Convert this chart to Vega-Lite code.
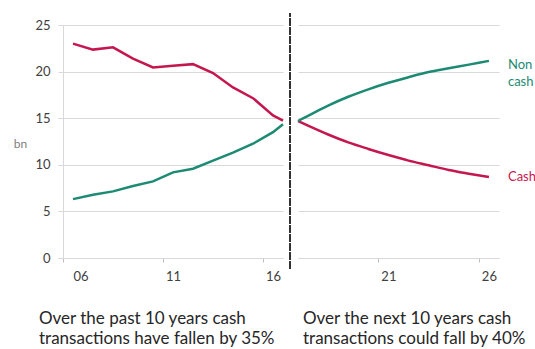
{
  "$schema": "https://vega.github.io/schema/vega-lite/v6.json",
  "background": "white",
  "padding": {"left": 13, "top": 12, "right": 0, "bottom": 0},
  "bounds": "flush",
  "spacing": 15,
  "config": {
    "view": {"stroke": null},
    "font": "Lato",
    "axis": {
      "labelFont": "Lato",
      "labelFontSize": 13,
      "labelColor": "#404040",
      "domainColor": "#d9d9d9",
      "tickColor": "#bfbfbf",
      "gridColor": "#d9d9d9",
      "titleFont": "Lato"
    },
    "title": {"font": "Lato", "fontSize": 17, "fontWeight": "normal", "color": "#262626", "anchor": "start", "orient": "bottom", "frame": "group", "lineHeight": 20, "offset": 28}
  },
  "datasets": {
    "past": [
      {"year": 6, "series": "Cash", "bn": 23.0},
      {"year": 7, "series": "Cash", "bn": 22.36},
      {"year": 8, "series": "Cash", "bn": 22.6},
      {"year": 9, "series": "Cash", "bn": 21.4},
      {"year": 10, "series": "Cash", "bn": 20.45},
      {"year": 11, "series": "Cash", "bn": 20.62},
      {"year": 12, "series": "Cash", "bn": 20.8},
      {"year": 13, "series": "Cash", "bn": 19.85},
      {"year": 14, "series": "Cash", "bn": 18.3},
      {"year": 15, "series": "Cash", "bn": 17.15},
      {"year": 16, "series": "Cash", "bn": 15.3},
      {"year": 16.5, "series": "Cash", "bn": 14.75},
      {"year": 6, "series": "Non cash", "bn": 6.32},
      {"year": 7, "series": "Non cash", "bn": 6.79},
      {"year": 8, "series": "Non cash", "bn": 7.15},
      {"year": 9, "series": "Non cash", "bn": 7.72},
      {"year": 10, "series": "Non cash", "bn": 8.22},
      {"year": 11, "series": "Non cash", "bn": 9.19},
      {"year": 12, "series": "Non cash", "bn": 9.58},
      {"year": 13, "series": "Non cash", "bn": 10.44},
      {"year": 14, "series": "Non cash", "bn": 11.3},
      {"year": 15, "series": "Non cash", "bn": 12.26},
      {"year": 16, "series": "Non cash", "bn": 13.5},
      {"year": 16.5, "series": "Non cash", "bn": 14.36}
    ],
    "outlook": [
      {"year": 16.5, "series": "Cash", "bn": 14.7},
      {"year": 17, "series": "Cash", "bn": 14.2},
      {"year": 18, "series": "Cash", "bn": 13.25},
      {"year": 19, "series": "Cash", "bn": 12.4},
      {"year": 20, "series": "Cash", "bn": 11.7},
      {"year": 21, "series": "Cash", "bn": 11.05},
      {"year": 22, "series": "Cash", "bn": 10.45},
      {"year": 23, "series": "Cash", "bn": 9.95},
      {"year": 24, "series": "Cash", "bn": 9.45},
      {"year": 25, "series": "Cash", "bn": 9.05},
      {"year": 26, "series": "Cash", "bn": 8.68},
      {"year": 16.5, "series": "Non cash", "bn": 14.7},
      {"year": 17, "series": "Non cash", "bn": 15.25},
      {"year": 18, "series": "Non cash", "bn": 16.35},
      {"year": 19, "series": "Non cash", "bn": 17.3},
      {"year": 20, "series": "Non cash", "bn": 18.1},
      {"year": 21, "series": "Non cash", "bn": 18.8},
      {"year": 22, "series": "Non cash", "bn": 19.4},
      {"year": 23, "series": "Non cash", "bn": 19.95},
      {"year": 24, "series": "Non cash", "bn": 20.35},
      {"year": 25, "series": "Non cash", "bn": 20.75},
      {"year": 26, "series": "Non cash", "bn": 21.15}
    ]
  },
  "hconcat": [
    {
      "width": 220,
      "height": 233,
      "title": {"text": ["Over the past 10 years cash", "transactions have fallen by 35%"], "dx": -24},
      "data": {"name": "past"},
      "layer": [
        {
          "mark": {"type": "line", "strokeWidth": 2.5},
          "encoding": {
            "x": {
              "field": "year", "type": "quantitative",
              "scale": {"domain": [5.5, 16.5], "nice": false, "zero": false},
              "axis": {"values": [5.5, 10.5, 15.5], "labelExpr": "format(datum.value + 0.5, '02d')", "labelOffset": 10, "grid": false, "tickSize": 4, "labelPadding": 8, "title": null}
            },
            "y": {
              "field": "bn", "type": "quantitative",
              "scale": {"domain": [0, 25], "nice": false},
              "axis": {"values": [0, 5, 10, 15, 20, 25], "grid": true, "tickSize": 5, "tickColor": "#d9d9d9", "labelPadding": 8, "title": "bn", "titleAngle": 0, "titleX": -43, "titleY": 118, "titleAlign": "center", "titleBaseline": "middle", "titleColor": "#808080", "titleFontSize": 12, "titleFontWeight": "normal"}
            },
            "color": {
              "field": "series", "type": "nominal",
              "scale": {"domain": ["Cash", "Non cash"], "range": ["#c4174f", "#1d8a73"]},
              "legend": null
            }
          }
        },
        {
          "mark": {"type": "rule", "strokeDash": [3, 1.5], "strokeWidth": 2, "color": "#333333", "clip": false},
          "encoding": {
            "x": {"datum": 16.85},
            "y": {"datum": 26.2},
            "y2": {"datum": -1.1}
          }
        }
      ]
    },
    {
      "width": 201,
      "height": 233,
      "title": {"text": ["Over the next 10 years cash", "transactions could fall by 40%"], "dx": 5},
      "data": {"name": "outlook"},
      "encoding": {
        "x": {
          "field": "year", "type": "quantitative",
          "scale": {"domain": [16.5, 26.5], "nice": false, "zero": false},
          "axis": {"values": [20.5, 25.5], "labelExpr": "format(datum.value + 0.5, '02d')", "labelOffset": 10, "grid": false, "tickSize": 4, "labelPadding": 8, "title": null}
        },
        "y": {
          "field": "bn", "type": "quantitative",
          "scale": {"domain": [0, 25], "nice": false},
          "axis": {"values": [0, 5, 10, 15, 20, 25], "grid": true, "domain": false, "ticks": false, "labels": false, "title": null}
        },
        "color": {
          "field": "series", "type": "nominal",
          "scale": {"domain": ["Cash", "Non cash"], "range": ["#c4174f", "#1d8a73"]},
          "legend": null
        }
      },
      "layer": [
        {"mark": {"type": "line", "strokeWidth": 2.5, "interpolate": "monotone"}},
        {
          "transform": [{"filter": "datum.year == 26 && datum.series == 'Non cash'"}],
          "mark": {"type": "text", "align": "left", "baseline": "middle", "dx": 19, "dy": 4, "fontSize": 13, "lineBreak": " ", "lineHeight": 17, "font": "Lato"},
          "encoding": {"text": {"field": "series"}}
        },
        {
          "transform": [{"filter": "datum.year == 26 && datum.series == 'Cash'"}],
          "mark": {"type": "text", "align": "left", "baseline": "middle", "dx": 19, "dy": 0, "fontSize": 13, "font": "Lato"},
          "encoding": {"text": {"field": "series"}}
        }
      ]
    }
  ]
}
